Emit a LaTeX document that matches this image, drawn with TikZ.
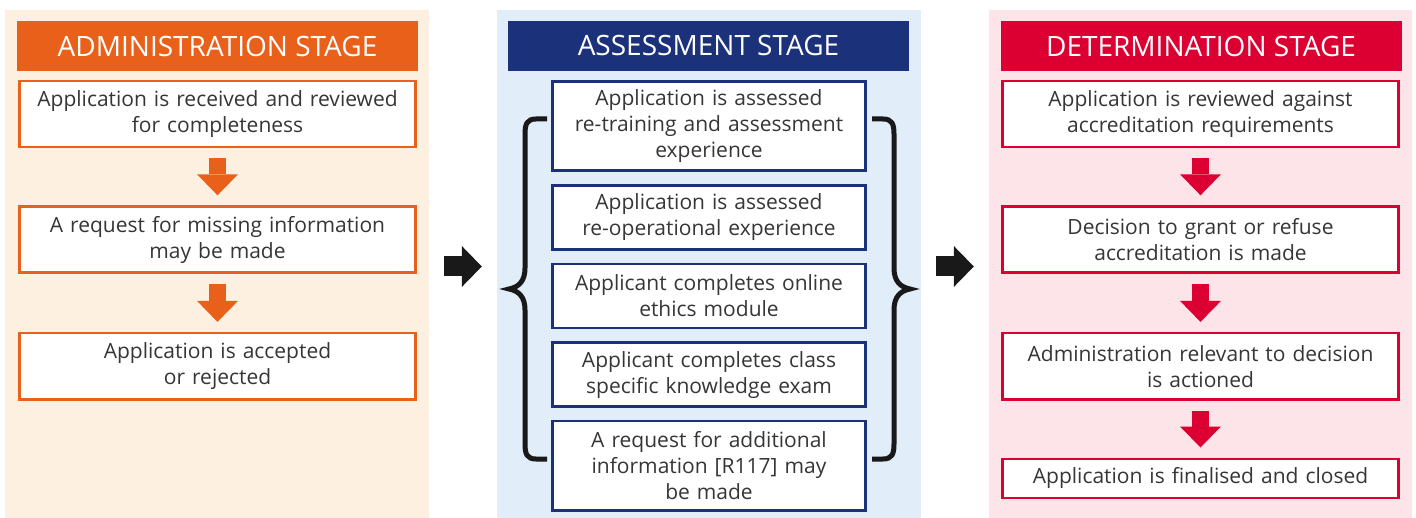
\documentclass[tikz,border=0pt]{standalone}
\usepackage{fontspec}
\setmainfont{Open Sans}
\usepackage{tikz}
\usetikzlibrary{arrows.meta,positioning}

\definecolor{admorange}{HTML}{E8601A}
\definecolor{admback}{HTML}{FDF0E1}
\definecolor{assnavy}{HTML}{1B317A}
\definecolor{assback}{HTML}{E1EDF9}
\definecolor{detred}{HTML}{DC0032}
\definecolor{detback}{HTML}{FCE4E8}
\definecolor{bodygrey}{HTML}{363636}

\begin{document}
\begin{tikzpicture}[
            x=1pt,y=-1pt,
            panel/.style={rectangle,minimum width=424pt,minimum height=508pt,inner sep=0},
            stagehead/.style={rectangle,minimum width=401pt,minimum height=50pt,inner sep=0,text=white,font=\fontsize{28}{32}\selectfont},
            stagebox/.style={draw,rectangle,fill=white,line width=2.6pt,inner xsep=0,inner ysep=0,text width=396.5pt,align=center,minimum height=66pt,text=bodygrey,font=\fontsize{21}{26}\selectfont},
            assessbox/.style={stagebox,draw=assnavy,text width=313.5pt,minimum height=64pt},
            downarrow/.style={line width=17pt,-{Triangle[width=41pt,length=21pt,line width=0pt]},shorten <=10pt,shorten >=10pt},
            sidearrow/.style={line width=20pt,-{Triangle[width=41pt,length=20pt,line width=0pt]},shorten <=15pt,shorten >=15pt,color=black!90},
            curly/.style={line width=5pt,draw=black!90}
          ]
          \useasboundingbox (0,0) rectangle (1416,518);

          %panels
          \node[panel,fill=admback] (admbg) at (217,264) {};
          \node[panel,fill=assback] (assbg) at (709,264) {};
          \node[panel,fill=detback,minimum width=423pt] (detbg) at (1200.5,264) {};

          %headers
          \node[stagehead,fill=admorange] (admhead) at (217.5,46) {ADMINISTRATION STAGE};
          \node[stagehead,fill=assnavy] (asshead) at (708.5,46) {ASSESSMENT STAGE};
          \node[stagehead,fill=detred] (dethead) at (1201,46) {DETERMINATION STAGE};

          %administration
          \node[stagebox,draw=admorange] (adm1) at (217.5,114) {Application is received and reviewed\\for completeness};
          \node[stagebox,draw=admorange,below=57pt of adm1] (adm2) {A request for missing information\\may be made};
          \node[stagebox,draw=admorange,below=58pt of adm2] (adm3) {Application is accepted\\or rejected};

          %assessment
          \node[assessbox,minimum height=89.5pt] (ass1) at (709,126) {Application is assessed\\re-training and assessment\\experience};
          \node[assessbox,below=12pt of ass1] (ass2) {Application is assessed\\re-operational experience};
          \node[assessbox,below=12pt of ass2] (ass3) {Applicant completes online\\ethics module};
          \node[assessbox,below=12pt of ass3] (ass4) {Applicant completes class\\specific knowledge exam};
          \node[assessbox,minimum height=89.5pt,below=12pt of ass4] (ass5) {A request for additional\\information [R117] may\\be made};

          %determination
          \node[stagebox,draw=detred] (det1) at (1200.5,114) {Application is reviewed against\\accreditation requirements};
          \node[stagebox,draw=detred,below=57pt of det1] (det2) {Decision to grant or refuse\\accreditation is made};
          \node[stagebox,draw=detred,below=58pt of det2] (det3) {Administration relevant to decision\\is actioned};
          \node[stagebox,draw=detred,minimum height=39pt,below=57pt of det3] (det4) {Application is finalised and closed};

          %braces
          \draw[curly] (547,119) -- (536,119) .. controls (527,119) and (525,124) .. (525,134) -- (525,268)
            .. controls (525,281) and (519,287) .. (509,289) .. controls (519,291) and (525,297) .. (525,310)
            -- (525,444) .. controls (525,454) and (527,459) .. (536,459) -- (547,459);
          \draw[curly] (872,119) -- (883,119) .. controls (892,119) and (894,124) .. (894,134) -- (894,268)
            .. controls (894,281) and (900,287) .. (910,289) .. controls (900,291) and (894,297) .. (894,310)
            -- (894,444) .. controls (894,454) and (892,459) .. (883,459) -- (872,459);

          %arrows
          \path[downarrow,color=admorange]
          (adm1) edge (adm2)
          (adm2) edge (adm3)
          ;
          \path[downarrow,color=detred]
          (det1) edge (det2)
          (det2) edge (det3)
          (det3) edge (det4)
          ;
          \path[sidearrow]
          ([yshift=-2.5pt]admbg.east) edge ([yshift=-2.5pt]assbg.west)
          ([yshift=-2.5pt]assbg.east) edge ([yshift=-2.5pt]detbg.west)
          ;

      \end{tikzpicture}
\end{document}
